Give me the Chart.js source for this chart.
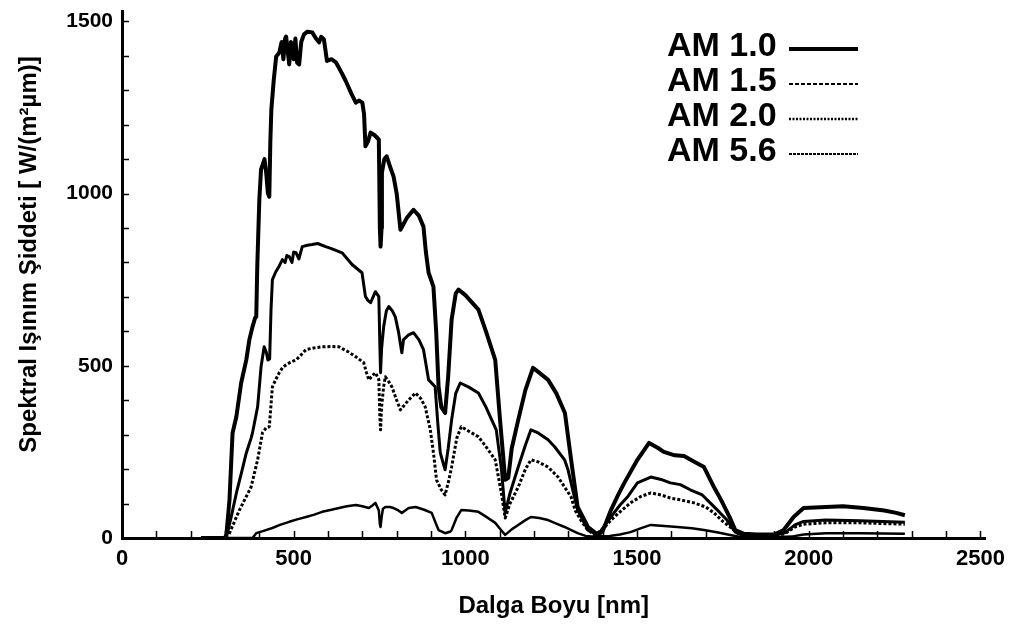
<!DOCTYPE html>
<html>
<head>
<meta charset="utf-8">
<script src="https://cdn.jsdelivr.net/npm/chart.js@4/dist/chart.umd.min.js"></script>
<style>
  html, body { margin: 0; padding: 0; background: #ffffff; }
  #wrap { width: 1013px; height: 626px; position: relative; }
</style>
</head>
<body>
<div id="wrap"><canvas id="c" width="1013" height="626"></canvas></div>
<script>
// ---- Data ----
const SERIES_LABELS = ["AM 1.0", "AM 1.5", "AM 2.0", "AM 5.6"];

const NM_AM10 = [230,300,304,313,322,333,347,362,371,380,388,391,394,400,405,410,415,420,425,429,432,435,442,449,458,465,470,475,478,483,487,492,496,500,505,510,516,522,530,540,554,565,574,580,588,597,610,623,640,652,668,681,690,700,705,709,716,724,735,748,751,753,756,757,764,771,780,791,800,811,830,849,865,878,885,893,907,915,922,930,941,950,960,972,980,1000,1038,1060,1087,1101,1116,1125,1135,1154,1175,1197,1215,1241,1265,1290,1308,1327,1357,1386,1400,1424,1445,1463,1501,1535,1560,1578,1610,1637,1660,1695,1724,1745,1770,1786,1811,1850,1900,1927,1956,1985,2050,2100,2159,2220,2255,2280];
const VAL_AM10 = [0,0,10,110,305,352,450,517,576,613,640,642,790,983,1070,1085,1100,1060,1000,991,1150,1244,1330,1398,1409,1440,1390,1450,1456,1410,1375,1440,1427,1390,1450,1380,1375,1440,1462,1470,1468,1450,1439,1455,1448,1385,1390,1381,1350,1326,1290,1264,1270,1264,1230,1137,1150,1177,1170,1157,900,846,900,1061,1100,1108,1080,1049,1000,895,930,953,935,904,830,770,730,600,439,380,363,470,634,710,721,705,663,600,517,343,169,175,260,343,430,494,480,459,420,363,227,90,32,9,20,81,125,160,227,276,262,250,240,238,225,206,148,110,60,23,12,10,10,23,61,87,90,92,87,80,73,66];

const NM_AM15 = [230,300,307,320,333,348,362,376,380,395,405,414,420,425,430,434,438,448,458,467,475,480,487,495,500,507,515,525,540,554,570,593,610,641,670,699,709,716,724,738,748,751,753,756,762,770,777,787,796,805,815,820,835,849,865,878,893,912,920,927,941,950,960,972,985,1010,1038,1060,1090,1105,1116,1130,1154,1175,1191,1212,1241,1260,1289,1299,1315,1327,1357,1386,1405,1424,1450,1472,1501,1540,1570,1597,1626,1655,1690,1713,1740,1762,1786,1810,1900,1930,1960,1985,2050,2150,2280];
const VAL_AM15 = [0,0,14,70,130,190,247,290,305,381,497,555,540,517,520,663,750,773,790,808,800,820,817,800,830,828,810,846,850,852,855,846,840,828,794,770,701,690,683,715,701,560,480,550,613,660,672,660,642,600,538,576,590,596,575,547,459,439,330,247,198,260,343,420,450,438,421,380,314,200,73,130,206,270,314,305,285,265,227,198,130,81,23,9,35,61,95,119,160,177,170,160,155,140,125,102,75,52,17,8,8,15,38,48,52,50,46];

const NM_AM20 = [230,300,313,342,376,395,409,420,429,435,438,448,458,468,478,490,507,520,536,560,583,610,632,660,681,704,712,719,728,738,748,751,753,756,762,767,776,786,800,811,835,855,870,883,898,908,916,930,941,950,960,975,988,1010,1038,1060,1087,1105,1116,1130,1154,1175,1191,1212,1241,1270,1289,1308,1320,1336,1355,1376,1400,1424,1455,1481,1510,1540,1570,1597,1630,1666,1700,1724,1750,1771,1795,1820,1900,1930,1960,1985,2050,2150,2280];
const VAL_AM20 = [0,0,14,81,148,227,305,320,323,400,439,460,480,495,503,510,517,530,547,552,555,556,555,540,526,509,480,459,470,480,460,350,314,380,440,468,455,439,400,372,401,421,405,381,314,240,169,140,125,160,206,290,323,310,294,265,227,130,58,100,148,200,227,221,206,177,148,119,80,52,25,9,25,52,80,102,120,131,125,116,110,102,90,73,48,32,12,6,6,12,32,40,44,44,40];

const NM_AM56 = [230,380,391,410,438,460,487,510,536,560,583,610,632,655,681,700,719,730,738,748,751,753,756,760,767,780,791,805,815,825,835,855,880,902,915,922,941,955,960,975,988,1010,1038,1060,1087,1105,1116,1135,1154,1175,1191,1215,1241,1265,1289,1310,1327,1350,1376,1420,1450,1481,1510,1540,1580,1617,1660,1695,1740,1771,1800,1900,1950,1985,2050,2150,2280];
const VAL_AM56 = [0,0,14,20,29,38,47,54,61,68,76,82,87,92,96,92,87,95,102,80,40,32,60,85,90,90,87,80,73,80,87,90,82,73,40,23,14,18,23,60,81,80,76,62,44,22,9,25,38,52,61,58,52,42,32,22,14,6,4,6,10,17,28,38,35,32,28,23,15,9,3,2,4,10,14,14,12];

const X_MIN = 0, X_MAX = 2515, X_MINOR = 100, X_LABEL_STEP = 500, X_LAST_TICK = 2500;
const Y_MIN = 0, Y_MAX = 1530, Y_MINOR = 100, Y_LABEL_STEP = 500, Y_LAST_TICK = 1500;
const X_TITLE = "Dalga Boyu [nm]";
const Y_TITLE = "Spektral Işınım Şiddeti [ W/(m²µm)]";

const FONT = "'Liberation Sans', Arial, Helvetica, sans-serif";

function pts(xs, ys) { return xs.map((x, i) => ({ x: x, y: ys[i] })); }
function range(a, b, s) { const r = []; for (let v = a; v <= b + 1e-9; v += s) r.push(v); return r; }

const datasets = [
  { label: SERIES_LABELS[0], data: pts(NM_AM10, VAL_AM10), borderColor: '#000', borderWidth: 4, borderDash: [], legendDash: [], legendWidth: 4 },
  { label: SERIES_LABELS[1], data: pts(NM_AM15, VAL_AM15), borderColor: '#000', borderWidth: 3, borderDash: [], legendDash: [4, 2], legendWidth: 2 },
  { label: SERIES_LABELS[2], data: pts(NM_AM20, VAL_AM20), borderColor: '#000', borderWidth: 3, borderDash: [3, 2], legendDash: [2, 1.5], legendWidth: 2.5 },
  { label: SERIES_LABELS[3], data: pts(NM_AM56, VAL_AM56), borderColor: '#000', borderWidth: 2.5, borderDash: [], legendDash: [3, 1], legendWidth: 2 }
].map(d => Object.assign({ fill: false, pointRadius: 0, tension: 0, borderJoinStyle: 'round', borderCapStyle: 'butt', backgroundColor: '#000' }, d));

// inward minor tick marks along the axes
const innerTicks = {
  id: 'innerTicks',
  afterDatasetsDraw(chart) {
    const ctx = chart.ctx;
    const xs = chart.scales.x, ys = chart.scales.y;
    const area = chart.chartArea;
    ctx.save();
    ctx.strokeStyle = '#000';
    ctx.lineWidth = 1.5;
    ctx.beginPath();
    xs.ticks.forEach(t => {
      const px = Math.round(xs.getPixelForValue(t.value)) + 0.5;
      ctx.moveTo(px, area.bottom); ctx.lineTo(px, area.bottom - 7);
    });
    ys.ticks.forEach(t => {
      const py = Math.round(ys.getPixelForValue(t.value)) + 0.5;
      ctx.moveTo(area.left, py); ctx.lineTo(area.left + 7, py);
    });
    ctx.stroke();
    ctx.restore();
  }
};

// legend: text followed by a line sample
const textLegend = {
  id: 'textLegend',
  afterDraw(chart, args, opts) {
    const ctx = chart.ctx;
    ctx.save();
    ctx.font = "bold " + opts.size + "px " + FONT;
    ctx.fillStyle = '#000';
    ctx.textAlign = 'left';
    ctx.textBaseline = 'middle';
    chart.data.datasets.forEach((ds, i) => {
      const y = opts.top + i * opts.rowStep;
      ctx.fillText(ds.label, opts.textLeft, y);
      ctx.beginPath();
      ctx.setLineDash(ds.legendDash || []);
      ctx.lineWidth = ds.legendWidth;
      ctx.strokeStyle = ds.borderColor;
      ctx.moveTo(opts.lineStart, y + 2);
      ctx.lineTo(opts.lineEnd, y + 2);
      ctx.stroke();
    });
    ctx.restore();
  }
};

new Chart(document.getElementById('c'), {
  type: 'line',
  data: { datasets: datasets },
  options: {
    responsive: false,
    animation: false,
    layout: { padding: { left: 0, right: 23, top: 11, bottom: 0 } },
    plugins: {
      legend: { display: false },
      tooltip: { enabled: false },
      textLegend: { size: 34, textLeft: 667, top: 47, rowStep: 35, lineStart: 789, lineEnd: 858 }
    },
    scales: {
      x: {
        type: 'linear', min: X_MIN, max: X_MAX,
        afterBuildTicks: s => { s.ticks = range(X_MIN, X_LAST_TICK, X_MINOR).map(v => ({ value: v })); },
        afterFit: s => { s.height = 88; },
        grid: { display: false, drawTicks: false },
        border: { display: true, color: '#000', width: 3 },
        ticks: {
          autoSkip: false, maxRotation: 0, padding: 8, color: '#000',
          font: { family: FONT, size: 22, weight: 'bold' },
          callback: v => (v % X_LABEL_STEP === 0 ? String(v) : '')
        },
        title: { display: true, text: X_TITLE, color: '#000', font: { family: FONT, size: 24, weight: 'bold' }, padding: { top: 0, bottom: 5 } }
      },
      y: {
        type: 'linear', min: Y_MIN, max: Y_MAX,
        afterBuildTicks: s => { s.ticks = range(Y_MIN, Y_LAST_TICK, Y_MINOR).map(v => ({ value: v })); },
        afterFit: s => { s.width = 122; s.paddingTop = 0; s.paddingBottom = 0; },
        grid: { display: false, drawTicks: false },
        border: { display: true, color: '#000', width: 3 },
        ticks: {
          autoSkip: false, padding: 9, color: '#000',
          font: { family: FONT, size: 21, weight: 'bold' },
          callback: v => (v % Y_LABEL_STEP === 0 ? String(v) : '')
        },
        title: { display: true, text: "      " + Y_TITLE, color: '#000', font: { family: FONT, size: 24, weight: 'bold' }, padding: { top: 15, bottom: 0 } }
      }
    }
  },
  plugins: [innerTicks, textLegend]
});
</script>
</body>
</html>
